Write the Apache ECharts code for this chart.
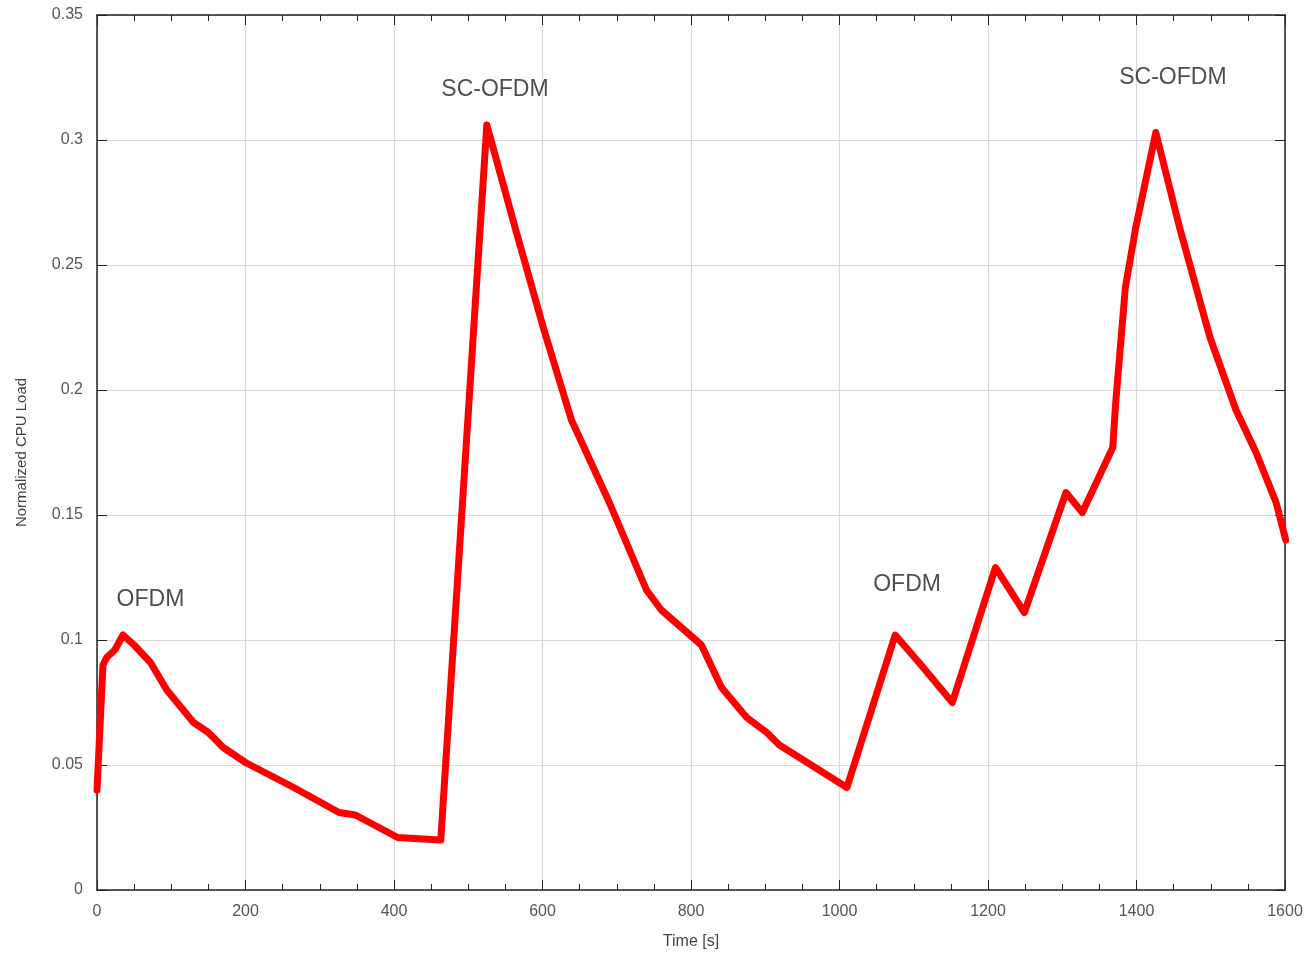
<!DOCTYPE html>
<html>
<head>
<meta charset="utf-8">
<script src="https://cdn.jsdelivr.net/npm/echarts@6/dist/echarts.min.js"></script>
<style>
  html, body { margin: 0; padding: 0; background: #fff; }
  #chart { width: 1311px; height: 957px; }
</style>
</head>
<body>
<div id="chart"></div>
<script>
// time [s] and normalized cpu load
const timeS = [0, 8, 13, 24, 35, 50, 72, 94, 130, 150, 170, 200, 265, 326, 348, 405, 463,
  525, 564, 602, 639, 690, 740, 760, 814, 841, 875, 902, 919, 1010,
  1075, 1107, 1152, 1210, 1249, 1305, 1327, 1368, 1372, 1385, 1399, 1426,
  1458, 1499, 1534, 1561, 1588, 1601]
const cpuLoad = [0.04, 0.09, 0.093, 0.096, 0.102, 0.098, 0.091, 0.08, 0.067, 0.063, 0.057, 0.051, 0.041, 0.031, 0.030, 0.021, 0.02,
  0.306, 0.264, 0.224, 0.188, 0.155, 0.12, 0.112, 0.098, 0.081, 0.069, 0.063, 0.058, 0.041,
  0.102, 0.091, 0.075, 0.129, 0.111, 0.159, 0.151, 0.177, 0.195, 0.241, 0.265, 0.303,
  0.265, 0.221, 0.192, 0.175, 0.155, 0.14]

const noteText = ['OFDM', 'SC-OFDM', 'OFDM', 'SC-OFDM']
const noteX = [72, 536, 1091, 1449]
const noteY = [0.116, 0.320, 0.122, 0.325]

const chart = echarts.init(document.getElementById('chart'))

const frame = { show: true, onZero: false, lineStyle: { color: '#222', width: 1.5 } }
const tick = { inside: true, length: 10, lineStyle: { color: '#222' } }
const minor = { show: true, splitNumber: 4, length: 6, lineStyle: { color: '#222' } }
const tickLbl = { color: '#555', fontSize: 16, fontFamily: 'Liberation Sans' }
const grid = { show: true, lineStyle: { color: '#d8d8d8', width: 1.2 } }

const option = {
  animation: false,
  backgroundColor: '#fff',
  grid: { left: 97, right: 26, top: 15, bottom: 67 },
  xAxis: [{
    type: 'value', min: 0, max: 1600, interval: 200,
    name: 'Time [s]', nameLocation: 'middle', nameGap: 44,
    nameTextStyle: { color: '#444', fontSize: 16, fontFamily: 'Liberation Sans' },
    axisLine: frame, axisTick: tick, minorTick: minor,
    axisLabel: Object.assign({ margin: 14, formatter: v => String(v) }, tickLbl),
    splitLine: grid
  }, {
    type: 'value', position: 'top', min: 0, max: 1600, interval: 200,
    axisLine: frame, axisTick: tick, minorTick: minor,
    axisLabel: { show: false },
    splitLine: { show: false }
  }],
  yAxis: [{
    type: 'value', min: 0, max: 0.35, interval: 0.05,
    name: 'Normalized CPU Load', nameLocation: 'middle', nameGap: 68,
    nameTextStyle: { color: '#444', fontSize: 15, fontFamily: 'Liberation Sans' },
    axisLine: frame, axisTick: tick,
    axisLabel: Object.assign({ margin: 14 }, tickLbl),
    splitLine: grid
  }, {
    type: 'value', position: 'right', min: 0, max: 0.35, interval: 0.05,
    axisLine: frame, axisTick: tick,
    axisLabel: { show: false },
    splitLine: { show: false }
  }],
  series: [{
    type: 'line',
    data: timeS.map((t, i) => [t, cpuLoad[i]]),
    showSymbol: false,
    lineStyle: { color: '#ff0000', width: 7, join: 'round', cap: 'round' },
    z: 3
  }, {
    type: 'scatter',
    data: noteX.map((x, i) => [x, noteY[i], noteText[i]]),
    symbolSize: 0,
    label: {
      show: true, position: 'inside',
      formatter: p => p.value[2],
      color: '#222', fontSize: 23, fontFamily: 'Liberation Sans'
    },
    z: 4
  }]
}

chart.setOption(option)
</script>
</body>
</html>
